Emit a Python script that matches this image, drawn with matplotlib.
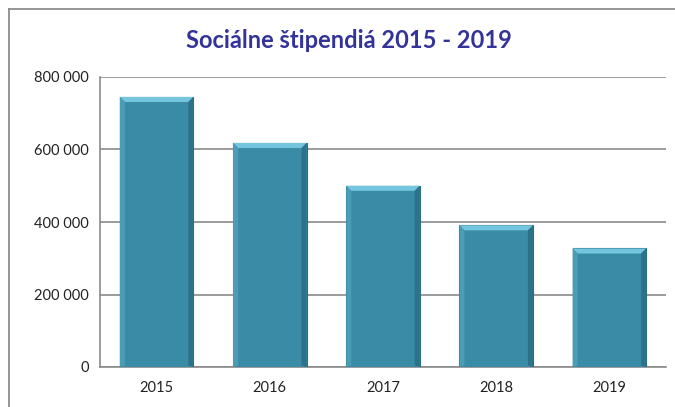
import matplotlib.pyplot as plt
from matplotlib.patches import Polygon
from matplotlib.lines import Line2D
import numpy as np

# data
roky = ["2015", "2016", "2017", "2018", "2019"]
hodnoty = [745000, 618000, 500000, 391000, 327000]
yticky = [0, 200000, 400000, 600000, 800000]

plt.rcParams['font.family'] = ['Lato', 'DejaVu Sans']

fig = plt.figure(figsize=(6.75, 4.07), dpi=100)
ax = fig.add_axes([100/675, 40/407, 566/675, 290/407])

# outer chart frame (only left and top edges visible)
fl = 8.5/675
ft = 1 - 9/407
fig.add_artist(Line2D([fl, fl], [0, ft], transform=fig.transFigure, color="#8c8c8c", linewidth=1.3))
fig.add_artist(Line2D([fl, 1], [ft, ft], transform=fig.transFigure, color="#8c8c8c", linewidth=1.3))

x = np.arange(len(roky))
sirka = 0.65
bars = ax.bar(x, hodnoty, width=sirka, color="#3a8ca6", edgecolor="#2b6f85", linewidth=0.8, zorder=3)

# bevel effect, computed from each bar
dx = 0.045  # bevel width in x units
dy = 14000  # bevel height in y units
for b in bars:
    x0 = b.get_x()
    x1 = x0 + b.get_width()
    top = b.get_height()
    ax.add_patch(Polygon([(x0, top), (x1, top), (x1 - dx, top - dy), (x0 + dx, top - dy)],
                         closed=True, facecolor="#74c6de", edgecolor="none", zorder=4))
    ax.add_patch(Polygon([(x0, top), (x0 + dx, top - dy), (x0 + dx, dy * 0.3), (x0, 0)],
                         closed=True, facecolor="#4b9cb5", edgecolor="none", zorder=4))
    ax.add_patch(Polygon([(x1, top), (x1 - dx, top - dy), (x1 - dx, dy * 0.3), (x1, 0)],
                         closed=True, facecolor="#2d7288", edgecolor="none", zorder=4))

ax.set_xlim(-0.5, len(roky) - 0.5)
ax.set_ylim(0, 800000)
ax.set_xticks(x)
ax.set_xticklabels(roky, fontsize=10.5, color="#222222")
ax.set_yticks(yticky)
ax.set_yticklabels([f"{v:,}".replace(",", " ") for v in yticky], fontsize=10.5, color="#222222")
ax.tick_params(length=0, pad=8)
ax.tick_params(axis="x", pad=10)

ax.grid(axis="y", color="#8a8a8a", linewidth=1.2, zorder=0)
for s in ["top", "right"]:
    ax.spines[s].set_visible(False)
for s in ["left", "bottom"]:
    ax.spines[s].set_color("#8a8a8a")
    ax.spines[s].set_linewidth(1.2)

fig.text(349/675, 1 - 40/407, "Sociálne štipendiá 2015 - 2019", ha="center", va="center",
         fontsize=17, fontweight="bold", color="#333399")

plt.savefig("out.png", dpi=100)
